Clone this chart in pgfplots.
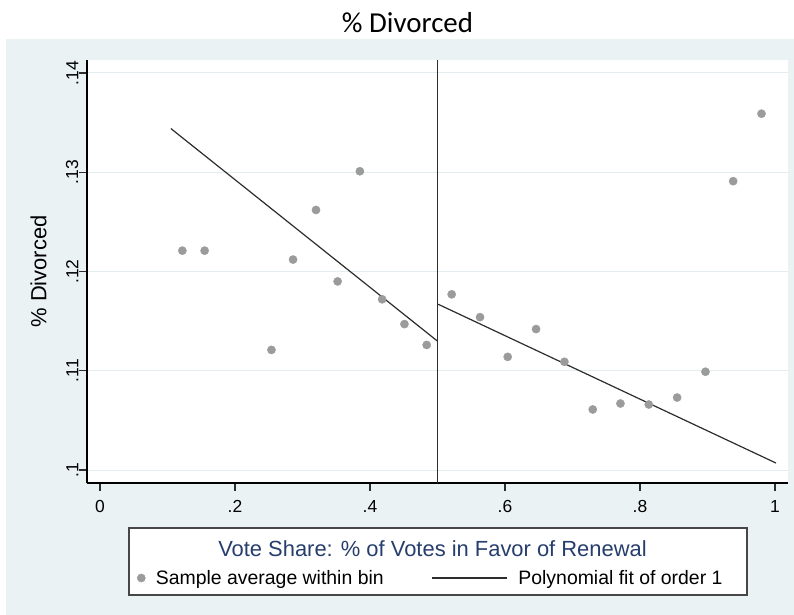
\documentclass[border=0pt]{standalone}
\usepackage{fontspec}
\setmainfont{Liberation Sans}
\newfontfamily\carlito{Carlito}
\usepackage{pgfplots}
\pgfplotsset{compat=1.18}
\definecolor{bgblue}{RGB}{234,242,243}
\definecolor{gridc}{RGB}{226,237,239}
\definecolor{dotc}{RGB}{155,155,155}
\definecolor{linec}{RGB}{45,45,45}
\definecolor{navy}{RGB}{38,62,110}
\definecolor{boxc}{RGB}{70,70,70}
\pgfplotsset{fitlegend/.style={legend image code/.code={\draw[##1] (0bp,0bp) -- (75bp,0bp);}}}

\begin{document}
\begin{tikzpicture}
\useasboundingbox (0,0) rectangle (794bp,615bp);
\fill[white] (0,0) rectangle (794bp,615bp);
\fill[bgblue] (6bp,0) rectangle (794bp,575.5bp);
\node[anchor=base, inner sep=0pt, font=\carlito\fontsize{29}{35}\selectfont] at (407.5bp,582bp) {\% Divorced};
\draw[line width=1.2bp, draw=boxc, fill=white] (129bp,20bp) rectangle (747bp,87bp);
\node[anchor=base, inner sep=0pt, text=navy, font=\fontsize{22}{26}\selectfont] at (432.5bp,58bp) {Vote Share: \% of Votes in Favor of Renewal};
\begin{axis}[
 at={(87bp,132bp)}, anchor=south west,
 scale only axis, width=701bp, height=423bp,
 xmin=-0.01926, xmax=1.01926, ymin=0.098691, ymax=0.141309,
 axis lines*=left, axis line style={line width=1.2bp, black},
 tick align=outside, major tick length=8bp,
 tick style={line width=1.2bp, color=linec},
 xtick={0,0.2,0.4,0.6,0.8,1}, xticklabels={0,.2,.4,.6,.8,1},
 ytick={0.1,0.11,0.12,0.13,0.14}, yticklabels={.1,.11,.12,.13,.14},
 ticklabel style={font=\fontsize{17.5}{21}\selectfont},
 yticklabel style={rotate=90, anchor=south, inner sep=0.5bp},
 xticklabel style={anchor=north, inner sep=0pt, yshift=-9.5bp},
 ymajorgrids, major grid style={gridc, line width=1bp},
 axis background/.style={fill=white},
 ylabel={\% Divorced},
 ylabel style={at={(axis description cs:-0.0692,0.5)}, anchor=center, font=\fontsize{22}{26}\selectfont},
 clip=false,
 legend columns=2,
 legend cell align=left,
 legend style={at={(axis description cs:0.0713,-0.2246)}, anchor=west, draw=none, fill=none,
   font=\fontsize{19.5}{23}\selectfont, inner sep=0pt,
   /tikz/every odd column/.append style={column sep=8.5bp},
   /tikz/every even column/.append style={column sep=46bp}},
]
% binned sample averages
\addplot[only marks, mark=*, mark size=4.1bp, draw=dotc, fill=dotc] coordinates {
 (0.122,0.1221) (0.155,0.1221) (0.254,0.1121) (0.286,0.1212) (0.320,0.1262)
 (0.352,0.1190) (0.385,0.1301) (0.418,0.1172) (0.451,0.1147) (0.484,0.1126)
 (0.521,0.1177) (0.563,0.1154) (0.604,0.1114) (0.646,0.1142) (0.688,0.1109)
 (0.730,0.1061) (0.771,0.1067) (0.813,0.1066) (0.855,0.1073) (0.897,0.1099)
 (0.938,0.1291) (0.980,0.1359)
};
\addlegendentry{Sample average within bin}
% linear fits
\addplot[linec, line width=1.2bp, fitlegend] coordinates {
 (0.105,0.1344) (0.4997,0.1130)
};
\addlegendentry{Polynomial fit of order 1}
\addplot[linec, line width=1.2bp, forget plot] coordinates {
 (0.501,0.1167) (1.0015,0.1007)
};
% cutoff
\addplot[linec, line width=1.7bp, forget plot] coordinates {
 (0.5,0.098691) (0.5,0.141309)
};
\end{axis}
\end{tikzpicture}
\end{document}
